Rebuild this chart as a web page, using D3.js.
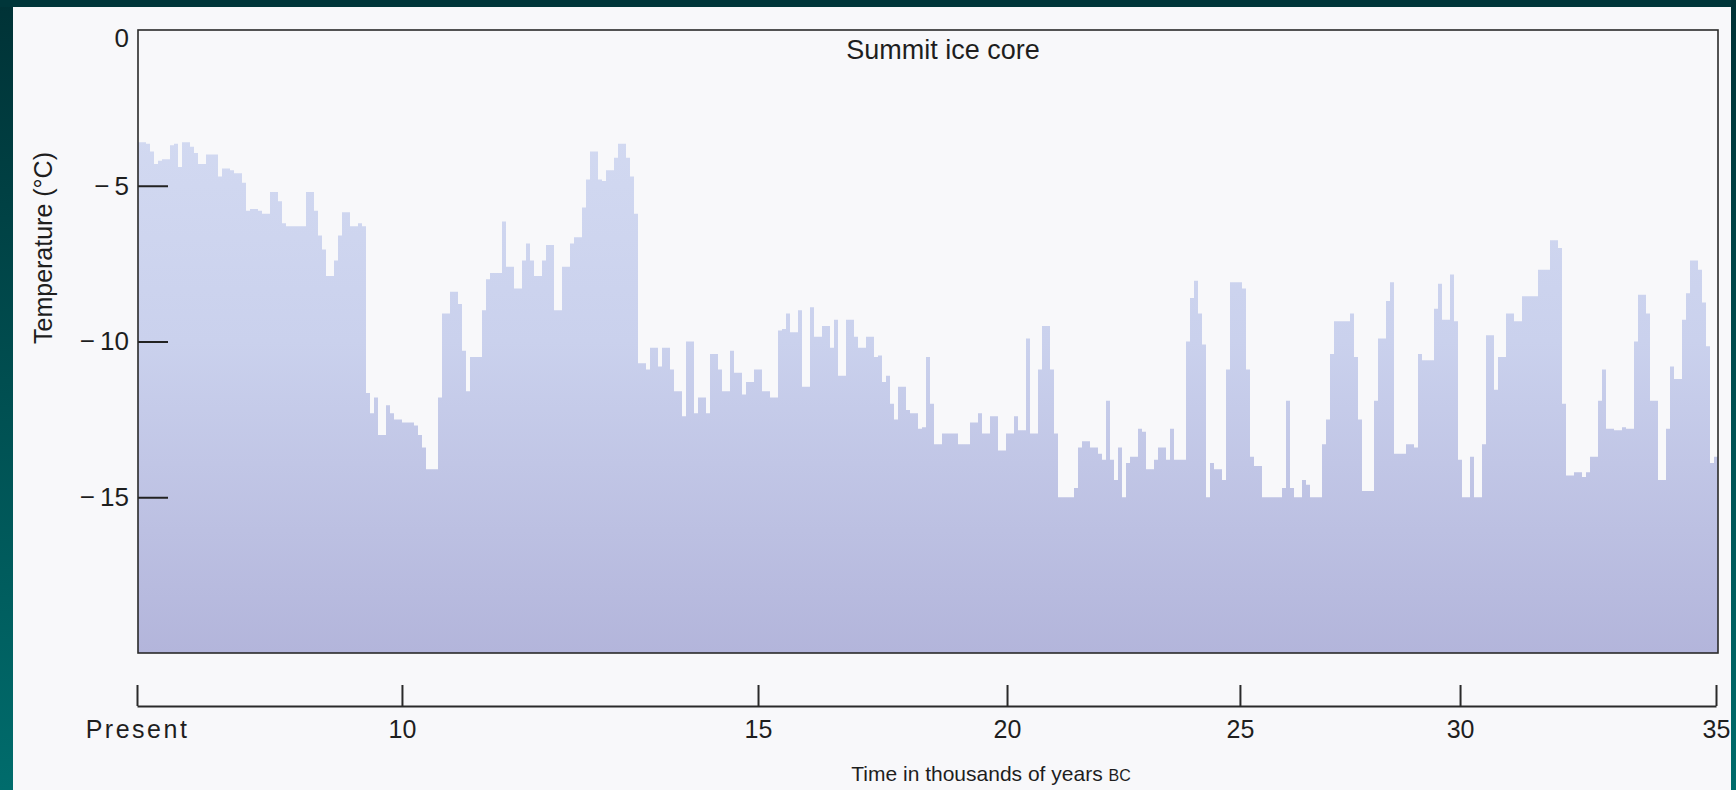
<!DOCTYPE html>
<html><head><meta charset="utf-8">
<script src="https://cdn.jsdelivr.net/npm/d3@7"></script>
<style>
html,body{margin:0;padding:0;background:#f8f8fa;}
svg{display:block;}
text{font-family:"Liberation Sans",Arial,Helvetica,sans-serif;fill:#1e1e1e;}
</style></head>
<body>
<svg id="chart" width="1736" height="790"></svg>
<script>
// ---- data (temperature °C per core sample, left = present) ----
const tempsHolocene = [
-3.6,-3.6,-3.65,-3.9,-4.3,-4.2,-4.15,-4.15,-3.7,-3.65,
-4.4,-3.6,-3.6,-3.75,-3.95,-4.3,-4.3,-4.0,-4.0,-4.0,
-4.7,-4.45,-4.45,-4.5,-4.6,-4.6,-4.9,-5.8,-5.75,-5.75,
-5.8,-5.9,-5.9,-5.2,-5.2,-5.5,-6.2,-6.3,-6.3,-6.3,
-6.3,-6.3,-5.2,-5.2,-5.8,-6.6,-7.05,-7.9,-7.9,-7.4,
-6.6,-5.85,-5.85,-6.3,-6.3,-6.2,-6.3,-11.65,-12.3,-11.8,
-13.0,-13.0,-12.05,-12.3,-12.5,-12.5,-12.6,-12.6,-12.6,-12.7,
-13.0,-13.4,-14.1,-14.1,-14.1,-11.8,-9.1,-9.1,-8.4,-8.4
];
const tempsDeglacial = [
-8.8,-10.3,-11.6,-10.5,-10.5,-10.5,-9.0,-8.0,-7.8,-7.8,
-7.8,-6.15,-7.6,-7.6,-8.3,-8.3,-7.4,-6.85,-7.4,-7.9,
-7.9,-7.4,-6.9,-6.9,-9.0,-9.0,-7.6,-7.6,-6.85,-6.65,
-6.65,-5.7,-4.8,-3.9,-3.9,-4.8,-4.85,-4.5,-4.5,-4.1,
-3.65,-3.65,-4.1,-4.7,-5.9,-10.7,-10.7,-10.9,-10.2,-10.2,
-10.8,-10.2,-10.2,-10.9,-11.6,-11.6,-12.4,-10.0,-10.0,-12.3,
-11.8,-11.8,-12.3,-10.4,-10.4,-10.9,-11.6,-11.6,-10.3,-11.0,
-11.0,-11.7,-11.3,-11.3,-10.9,-10.9,-11.6,-11.6,-11.8,-11.8
];
const tempsLGM = [
-9.65,-9.6,-9.1,-9.7,-9.7,-9.0,-11.45,-11.45,-8.9,-9.85,
-9.85,-9.5,-9.5,-10.2,-9.3,-11.1,-11.1,-9.3,-9.3,-9.85,
-10.2,-10.2,-9.85,-9.85,-10.5,-10.45,-11.3,-11.1,-12.0,-12.5,
-11.45,-11.45,-12.2,-12.3,-12.3,-12.8,-12.75,-10.5,-12.0,-13.3,
-13.3,-12.95,-12.95,-12.95,-12.95,-13.3,-13.3,-13.3,-12.6,-12.6,
-12.3,-12.95,-12.95,-12.4,-12.4,-13.5,-13.5,-12.95,-12.95,-12.4,
-12.85,-12.85,-9.9,-12.95,-12.95,-10.9,-9.5,-9.5,-10.9,-12.95,
-15.0,-15.0,-15.0,-15.0,-14.7,-13.4,-13.2,-13.2,-13.4,-13.4
];
const tempsGlacialA = [
-13.6,-13.8,-11.9,-13.8,-14.45,-13.4,-15.0,-13.9,-13.7,-13.7,
-12.8,-12.9,-14.1,-14.1,-13.8,-13.4,-13.4,-13.8,-12.8,-13.8,
-13.8,-13.8,-10.0,-8.6,-8.05,-9.1,-10.1,-15.0,-13.9,-14.1,
-14.1,-14.45,-10.9,-8.1,-8.1,-8.1,-8.3,-10.9,-13.7,-14.0,
-14.0,-15.0,-15.0,-15.0,-15.0,-15.0,-14.7,-11.9,-14.7,-15.0,
-15.0,-14.45,-14.6,-15.0,-15.0,-15.0,-13.3,-12.5,-10.4,-9.35,
-9.35,-9.35,-9.35,-9.1,-10.5,-12.5,-14.8,-14.8,-14.8,-11.9,
-9.9,-9.9,-8.7,-8.1,-13.6,-13.6
];
const tempsGlacialB = [
-13.6,-13.3,-13.3,-13.4,-10.4,-10.6,-10.6,-10.6,-8.95,-8.15,
-9.3,-9.3,-7.85,-9.35,-13.8,-15.0,-15.0,-13.7,-15.0,-15.0,
-13.3,-9.8,-9.8,-11.55,-10.5,-10.5,-9.1,-9.1,-9.35,-9.35,
-8.55,-8.55,-8.55,-8.55,-7.7,-7.7,-7.7,-6.75,-6.75,-7.0,
-12.0,-14.3,-14.3,-14.2,-14.2,-14.35,-14.2,-13.7,-13.7,-11.9,
-10.9,-12.8,-12.8,-12.85,-12.85,-12.75,-12.8,-12.8,-10.0,-8.5,
-8.5,-9.1,-11.9,-11.9,-14.45,-14.45,-12.8,-10.8,-11.2,-11.2,
-9.3,-8.45,-7.4,-7.4,-7.7,-8.75,-10.15,-13.9,-13.7
];
const yTicks = [0, -5, -10, -15];
const xTickValues = [0, 10, 15, 20, 25, 30, 35];
const xTickLabels = ["Present", "10", "15", "20", "25", "30", "35"];
const title = "Summit ice core";
const yTitle = "Temperature (°C)";
const xTitle = "Time in thousands of years ";
const xTitleSmallCaps = "BC";

const temps = [].concat(tempsHolocene, tempsDeglacial, tempsLGM, tempsGlacialA, tempsGlacialB);

// ---- layout ----
const W = 1736, H = 790;
const box = {left: 138, top: 30, right: 1718, bottom: 653};
const axisY = 706;
const axisFrac = [0, 0.1678, 0.3933, 0.551, 0.6985, 0.8379, 1];

const svg = d3.select("#chart");
const defs = svg.append("defs");

const fg = defs.append("linearGradient").attr("id","fillGrad")
  .attr("gradientUnits","userSpaceOnUse").attr("x1",0).attr("x2",0)
  .attr("y1",box.top).attr("y2",box.bottom);
fg.append("stop").attr("offset","0").attr("stop-color","#d6ddf3");
fg.append("stop").attr("offset","0.5").attr("stop-color","#cad1ed");
fg.append("stop").attr("offset","1").attr("stop-color","#b3b5db");

const lg = defs.append("linearGradient").attr("id","frameGrad")
  .attr("x1",0).attr("x2",0).attr("y1",0).attr("y2",1);
lg.append("stop").attr("offset","0").attr("stop-color","#003236");
lg.append("stop").attr("offset","1").attr("stop-color","#006c6c");

// page background + frame
svg.append("rect").attr("width",W).attr("height",H).attr("fill","#f8f8fa");
svg.append("rect").attr("x",0).attr("y",0).attr("width",13).attr("height",H).attr("fill","url(#frameGrad)");
svg.append("rect").attr("x",0).attr("y",0).attr("width",W).attr("height",7).attr("fill","#00363a");
svg.append("rect").attr("x",W-5).attr("y",0).attr("width",5).attr("height",H).attr("fill","url(#frameGrad)");

// scales
const xBin = d3.scaleLinear().domain([0, temps.length]).range([box.left, box.right]);
const y = d3.scaleLinear().domain([-20, 0]).range([box.bottom, box.top]);
const axisLeftX = 137, axisRightX = 1716;
const xAge = d3.scaleLinear().domain(xTickValues)
  .range(axisFrac.map(f => axisLeftX + f * (axisRightX - axisLeftX)));

// stepped area
const pts = temps.map((t,i) => ({i, t}));
pts.push({i: temps.length, t: temps[temps.length-1]});
const area = d3.area().curve(d3.curveStepAfter)
  .x(d => xBin(d.i)).y0(y(-20)).y1(d => y(d.t));
svg.append("path").datum(pts).attr("d", area).attr("fill","url(#fillGrad)");

// y axis (ticks inside the box)
const yAxis = d3.axisLeft(y).tickValues(yTicks).tickSizeInner(-30).tickSizeOuter(0).tickPadding(9)
  .tickFormat(d => d === 0 ? "0" : "\u2212\u2009" + Math.abs(d));
const gy = svg.append("g").attr("transform",`translate(${box.left},0)`).call(yAxis);
gy.select(".domain").remove();
gy.selectAll(".tick line").attr("stroke","#222").attr("stroke-width",2);
gy.selectAll(".tick").filter(d => d === 0).select("line").remove();
gy.selectAll(".tick text").attr("font-size",26).attr("fill","#1e1e1e")
  .attr("font-family","Liberation Sans, Arial, sans-serif");
gy.selectAll(".tick").filter(d => d === 0).select("text").attr("dy","0.62em");

// frame box
svg.append("rect").attr("x",box.left).attr("y",box.top)
  .attr("width",box.right-box.left).attr("height",box.bottom-box.top)
  .attr("fill","none").attr("stroke","#2a2a2a").attr("stroke-width",1.6);

// x axis (separate line below)
const xAxis = d3.axisBottom(xAge).tickValues(xTickValues).tickSizeInner(-21).tickSizeOuter(0).tickPadding(14)
  .tickFormat((d,i) => xTickLabels[i]);
const gx = svg.append("g").attr("transform",`translate(0,${axisY})`).call(xAxis);
gx.select(".domain").attr("stroke","#2a2a2a").attr("stroke-width",2);
gx.selectAll(".tick line").attr("stroke","#2a2a2a").attr("stroke-width",2);
gx.selectAll(".tick text").attr("font-size",25).attr("fill","#1e1e1e")
  .attr("font-family","Liberation Sans, Arial, sans-serif");
gx.selectAll(".tick").filter(d => d === 0).select("text").attr("letter-spacing","2.5px");

// titles
svg.append("text").attr("x",943).attr("y",59).attr("text-anchor","middle")
  .attr("font-size",27).text(title);
svg.append("text").attr("transform",`translate(52,248) rotate(-90)`)
  .attr("text-anchor","middle").attr("font-size",25).text(yTitle);
const xt = svg.append("text").attr("x",991).attr("y",781).attr("text-anchor","middle").attr("font-size",21);
xt.append("tspan").text(xTitle);
xt.append("tspan").attr("font-size",16).text(xTitleSmallCaps);
</script>
</body></html>
